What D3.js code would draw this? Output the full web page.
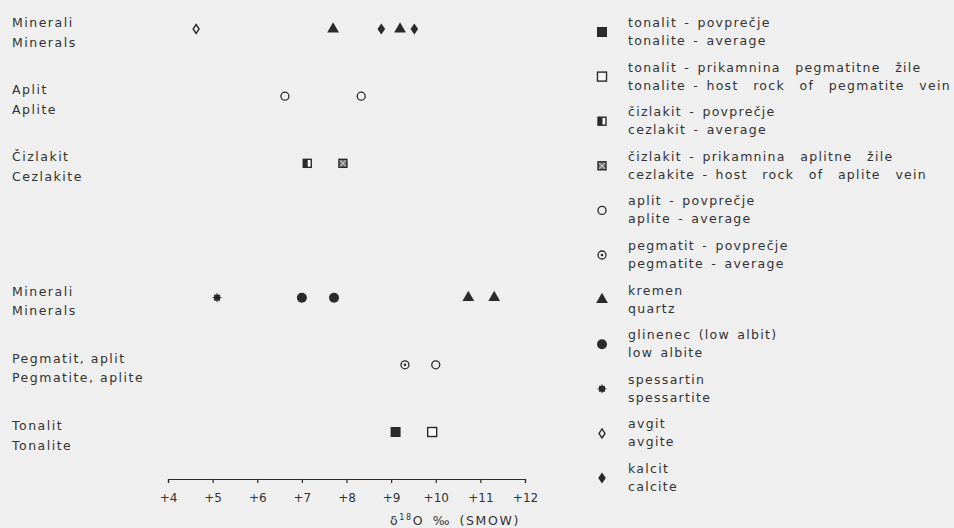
<!DOCTYPE html>
<html>
<head>
<meta charset="utf-8">
<script src="https://cdn.jsdelivr.net/npm/d3@7"></script>
<style>
  html, body { margin: 0; padding: 0; background: #efefef; }
  svg { display: block; }
  text { font-family: "DejaVu Sans", sans-serif; fill: #333; }
</style>
</head>
<body>
<div id="chart"></div>
<script>
// row labels (Slovene / English), top to bottom
const rowLabels = [
  ['Minerali', 'Minerals'],
  ['Aplit', 'Aplite'],
  ['Čizlakit', 'Cezlakite'],
  ['Minerali', 'Minerals'],
  ['Pegmatit, aplit', 'Pegmatite, aplite'],
  ['Tonalit', 'Tonalite']
];
// vertical slot of each row (rows 3 and 4 have a gap between them)
const rowSlots = [0, 1, 2, 4, 5, 6];

const legendLabels = [
  ['tonAvg',  'tonalit - povprečje', 'tonalite - average'],
  ['tonHost', 'tonalit - prikamnina  pegmatitne  žile', 'tonalite - host  rock  of  pegmatite  vein'],
  ['cezAvg',  'čizlakit - povprečje', 'cezlakit - average'],
  ['cezHost', 'čizlakit - prikamnina  aplitne  žile', 'cezlakite - host  rock  of  aplite  vein'],
  ['aplAvg',  'aplit - povprečje', 'aplite - average'],
  ['pegAvg',  'pegmatit - povprečje', 'pegmatite - average'],
  ['quartz',  'kremen', 'quartz'],
  ['albite',  'glinenec (low albit)', 'low albite'],
  ['spess',   'spessartin', 'spessartite'],
  ['augite',  'avgit', 'avgite'],
  ['calcite', 'kalcit', 'calcite']
];

// delta 18O values, [row index, value]
const tonAvg  = [[5, 9.1]];
const tonHost = [[5, 9.92]];
const cezAvg  = [[2, 7.12]];
const cezHost = [[2, 7.92]];
const aplAvg  = [[1, 6.62], [1, 8.33], [4, 10.0]];
const pegAvg  = [[4, 9.31]];
const quartz  = [[0, 7.7], [0, 9.2], [3, 10.73], [3, 11.31]];
const albite  = [[3, 7.0], [3, 7.72]];
const spess   = [[3, 5.1]];
const augite  = [[0, 4.63]];
const calcite = [[0, 8.78], [0, 9.52]];

const series = { tonAvg, tonHost, cezAvg, cezHost, aplAvg, pegAvg, quartz, albite, spess, augite, calcite };

const xTicks = [4, 5, 6, 7, 8, 9, 10, 11, 12];

const width = 954, height = 528;
const ink = '#2a2a2a';

const svg = d3.select('#chart').append('svg')
  .attr('width', width).attr('height', height);

const x = d3.scaleLinear().domain([4, 12]).range([168, 525]);
const y = d3.scaleLinear().domain([0, 6]).range([29, 432]);

// symbol drawing
function drawSymbol (g, type) {
  switch (type) {
    case 'tonAvg':
      g.append('rect').attr('x', -5).attr('y', -5).attr('width', 10).attr('height', 10).attr('fill', ink);
      break;
    case 'tonHost':
      g.append('rect').attr('x', -4.5).attr('y', -4.5).attr('width', 9).attr('height', 9)
        .attr('fill', '#fafafa').attr('stroke', ink).attr('stroke-width', 1.4);
      break;
    case 'cezAvg':
      g.append('rect').attr('x', -4).attr('y', -4).attr('width', 8).attr('height', 8)
        .attr('fill', '#fafafa').attr('stroke', ink).attr('stroke-width', 1.4);
      g.append('rect').attr('x', -4).attr('y', -4).attr('width', 4.5).attr('height', 8).attr('fill', ink);
      break;
    case 'cezHost':
      g.append('rect').attr('x', -4).attr('y', -4).attr('width', 8).attr('height', 8)
        .attr('fill', '#777').attr('stroke', ink).attr('stroke-width', 1.4);
      g.append('path').attr('d', 'M-3,-3L3,3M3,-3L-3,3').attr('stroke', '#ddd').attr('stroke-width', 1);
      break;
    case 'aplAvg':
      g.append('circle').attr('r', 4).attr('fill', 'none').attr('stroke', ink).attr('stroke-width', 1.3);
      break;
    case 'pegAvg':
      g.append('circle').attr('r', 4).attr('fill', 'none').attr('stroke', ink).attr('stroke-width', 1.3);
      g.append('circle').attr('r', 1.3).attr('fill', ink);
      break;
    case 'quartz':
      g.append('path').attr('d', d3.symbol(d3.symbolTriangle, 60)()).attr('fill', ink);
      break;
    case 'albite':
      g.append('circle').attr('r', 5).attr('fill', ink);
      break;
    case 'spess':
      g.append('rect').attr('x', -3).attr('y', -3).attr('width', 6).attr('height', 6).attr('fill', ink);
      g.append('path').attr('d', 'M-4.5,0H4.5M0,-4.5V4.5').attr('stroke', ink).attr('stroke-width', 1);
      break;
    case 'augite':
      g.append('path').attr('d', 'M0,-4.5L3,0L0,4.5L-3,0Z')
        .attr('fill', 'none').attr('stroke', ink).attr('stroke-width', 1.4);
      break;
    case 'calcite':
      g.append('path').attr('d', 'M0,-5.5L3.8,0L0,5.5L-3.8,0Z').attr('fill', ink);
      break;
  }
}

// row labels
const rows = svg.append('g').selectAll('text')
  .data(rowLabels)
  .join('text')
  .attr('x', 12)
  .attr('y', (d, i) => y(rowSlots[i]) - 2)
  .attr('font-size', 12.5)
  .attr('letter-spacing', 1.5);
rows.append('tspan').text(d => d[0]);
rows.append('tspan').attr('x', 12).attr('dy', 19.5).text(d => d[1]);

// points
const pts = Object.entries(series).flatMap(([type, vals]) =>
  vals.map(([r, v]) => ({ type, row: r, value: v })));
svg.append('g').selectAll('g')
  .data(pts)
  .join('g')
  .attr('transform', d => `translate(${x(d.value)},${y(rowSlots[d.row])})`)
  .each(function (d) { drawSymbol(d3.select(this), d.type); });

// x axis
const axis = d3.axisBottom(x)
  .tickValues(xTicks)
  .tickSize(4)
  .tickSizeOuter(4)
  .tickPadding(10)
  .tickFormat(d => '+' + d);
const ax = svg.append('g').attr('transform', 'translate(0,479)').call(axis);
ax.select('.domain').attr('stroke', ink).attr('stroke-width', 1.2);
ax.selectAll('.tick line').attr('stroke', ink).attr('stroke-width', 1.2);
ax.selectAll('.tick text')
  .attr('font-family', '"DejaVu Sans", sans-serif')
  .attr('font-size', 12)
  .attr('fill', '#333');

svg.append('text')
  .attr('x', 390).attr('y', 525)
  .attr('font-size', 12.5)
  .attr('letter-spacing', 1.6)
  .attr('word-spacing', 3)
  .html('δ<tspan font-size="8" dy="-5">18</tspan><tspan dy="5">O ‰ (SMOW)</tspan>');

// legend
const leg = svg.append('g').selectAll('g')
  .data(legendLabels)
  .join('g')
  .attr('transform', (d, i) => `translate(0,${23 + i * 44.6})`);
leg.append('g')
  .attr('transform', 'translate(602,9)')
  .each(function (d) { drawSymbol(d3.select(this), d[0]); });
const lt = leg.append('text')
  .attr('x', 628)
  .attr('y', 4)
  .attr('font-size', 12.5)
  .attr('letter-spacing', 1.3)
  .attr('word-spacing', 2)
  .attr('xml:space', 'preserve')
  .style('white-space', 'pre');
lt.append('tspan').text(d => d[1]);
lt.append('tspan').attr('x', 628).attr('dy', 18).text(d => d[2]);
</script>
</body>
</html>
